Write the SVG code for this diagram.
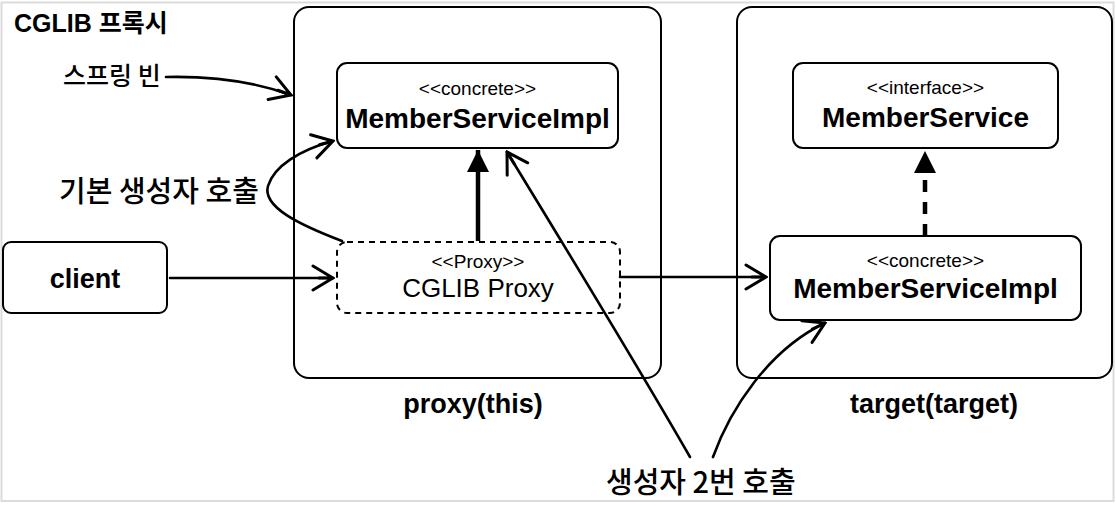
<svg xmlns="http://www.w3.org/2000/svg" width="1116" height="507" viewBox="0 0 1116 507">
  <style>
    .t { font-family: "Liberation Sans", "Noto Sans CJK KR", Arial, sans-serif; fill: #000; }
    .k { font-family: "Noto Sans CJK KR", "Liberation Sans", sans-serif; fill: #000; font-weight: 500; }
    .b { font-weight: bold; }
    .box { fill: #fff; stroke: #000; stroke-width: 2; }
    .con { fill: none; stroke: #000; stroke-width: 2.6; stroke-linecap: round; }
  </style>
  <defs>
    <marker id="open" viewBox="0 0 24 28" refX="22" refY="14" markerWidth="24" markerHeight="28" markerUnits="userSpaceOnUse" orient="auto">
      <path d="M2,2 L22,14 L2,26 M8,14 L22,14" fill="none" stroke="#000" stroke-width="3" stroke-linejoin="miter" stroke-linecap="round"/>
    </marker>
    <marker id="tri" viewBox="0 0 22 22" refX="22" refY="11" markerWidth="22" markerHeight="22" markerUnits="userSpaceOnUse" orient="auto">
      <path d="M0,0 L22,11 L0,22 Z" fill="#000"/>
    </marker>
  </defs>

  <rect x="0" y="0" width="1116" height="507" fill="#fff"/>
  <rect id="frame" x="1.5" y="2.5" width="1112" height="498.5" fill="#fff" stroke="#dcdcdc" stroke-width="2"/>

  <text class="t b" x="14" y="32" font-size="25">CGLIB 프록시</text>

  <g id="proxy-container">
    <rect class="box" x="294" y="7" width="367" height="371" rx="15"/>
    <text class="t b" x="473" y="413" font-size="27" text-anchor="middle">proxy(this)</text>
  </g>

  <g id="target-container">
    <rect class="box" x="737" y="7" width="375" height="371" rx="15"/>
    <text class="t b" x="934" y="413" font-size="27" text-anchor="middle">target(target)</text>
  </g>

  <g id="proxy-impl">
    <rect class="box" x="337" y="63" width="281" height="85" rx="10"/>
    <text class="t" x="477.5" y="95" font-size="19" text-anchor="middle">&lt;&lt;concrete&gt;&gt;</text>
    <text class="t b" x="477.5" y="128" font-size="28" text-anchor="middle">MemberServiceImpl</text>
  </g>

  <g id="member-service">
    <rect class="box" x="793" y="63" width="265" height="85" rx="10"/>
    <text class="t" x="925.5" y="94" font-size="19" text-anchor="middle">&lt;&lt;interface&gt;&gt;</text>
    <text class="t b" x="925.5" y="127" font-size="28" text-anchor="middle">MemberService</text>
  </g>

  <g id="target-impl">
    <rect class="box" x="770" y="236" width="311" height="84" rx="10"/>
    <text class="t" x="925.5" y="267" font-size="19" text-anchor="middle">&lt;&lt;concrete&gt;&gt;</text>
    <text class="t b" x="925.5" y="298" font-size="28" text-anchor="middle">MemberServiceImpl</text>
  </g>

  <g id="cglib-proxy">
    <rect x="337" y="242" width="283" height="71" rx="10" fill="#fff" stroke="#000" stroke-width="2" stroke-dasharray="6 5"/>
    <text class="t" x="478" y="268" font-size="19" text-anchor="middle">&lt;&lt;Proxy&gt;&gt;</text>
    <text class="t" x="478" y="297" font-size="26" text-anchor="middle">CGLIB Proxy</text>
  </g>

  <g id="client">
    <rect class="box" x="3" y="242" width="164" height="71" rx="8"/>
    <text class="t b" x="85" y="288" font-size="27" text-anchor="middle">client</text>
  </g>

  <g id="labels">
    <text class="k" x="63" y="85" font-size="25">스프링 빈</text>
    <text class="k" x="59" y="202" font-size="29">기본 생성자 호출</text>
    <text class="k" x="606" y="493" font-size="29">생성자 2번 호출</text>
  </g>

  <g id="connectors">
    <path class="con" d="M166,77 C212,76 255,82 291,95" marker-end="url(#open)"/>
    <path class="con" d="M342,241 C300,225 262,207 268,186 C274,166 300,150 333,141" marker-end="url(#open)"/>
    <path class="con" d="M170,278 L333,278" marker-end="url(#open)"/>
    <path class="con" d="M620,277 L766,277" marker-end="url(#open)"/>
    <path d="M478,241 L478,150" fill="none" stroke="#000" stroke-width="4.5" marker-end="url(#tri)"/>
    <path d="M925,236 L925,151" fill="none" stroke="#000" stroke-width="4.5" stroke-dasharray="12 10" marker-end="url(#tri)"/>
    <path class="con" d="M690,457 C640,370 570,255 507,152" marker-end="url(#open)"/>
    <path class="con" d="M713,457 C730,410 768,350 825,323" marker-end="url(#open)"/>
  </g>
</svg>
